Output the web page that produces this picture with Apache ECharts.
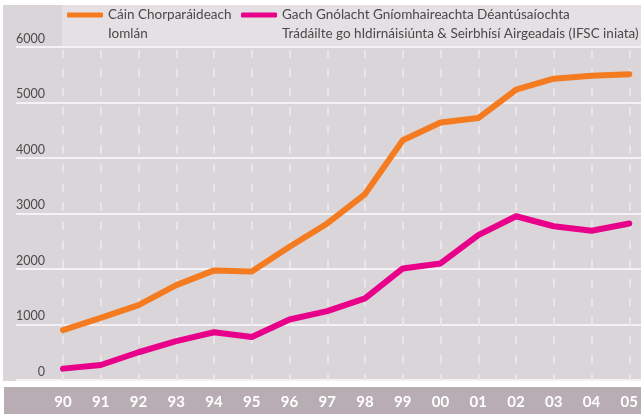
<!DOCTYPE html>
<html>
<head>
<meta charset="UTF-8">
<title>Cáin Chorparáideach</title>
<script src="https://cdn.jsdelivr.net/npm/echarts@6/dist/echarts.min.js"></script>
<style>
  html, body { margin: 0; padding: 0; background: #fff; }
  #main { width: 641px; height: 414px; }
</style>
</head>
<body>
<div id="main"></div>
<script>
// bliainta
var years = ['90', '91', '92', '93', '94', '95', '96', '97', '98', '99', '00', '01', '02', '03', '04', '05'];
// Cáin Chorparáideach Iomlán
var totalTax = [900, 1120, 1350, 1710, 1975, 1955, 2400, 2820, 3350, 4320, 4640, 4720, 5230, 5430, 5480, 5510];
// Gach Gnólacht ... (IFSC iniata)
var mfgIfsc = [205, 270, 500, 700, 860, 775, 1090, 1240, 1470, 2010, 2100, 2610, 2950, 2770, 2690, 2820];
var yTicks = [0, 1000, 2000, 3000, 4000, 5000, 6000];

var name1 = 'Cáin Chorparáideach\nIomlán';
var name2 = 'Gach Gnólacht Gníomhaireachta Déantúsaíochta\nTrádáilte go hIdirnáisiúnta & Seirbhísí Airgeadais (IFSC iniata)';

var font = 'Lato';
var legendText = { fontFamily: font, fontSize: 13.5, color: '#4a4a4a', lineHeight: 19 };

// blank first line so the legend mark sits level with the first text line
function legendFmt(n) { return ' \n' + n; }

var myChart = echarts.init(document.getElementById('main'));

var option = {
    animation: false,
    backgroundColor: '#ffffff',
    graphic: [
        { type: 'rect', z: -10, shape: { x: 3, y: 5, width: 638, height: 376 }, style: { fill: '#dad5d9' } },
        { type: 'rect', z: -9, shape: { x: 62, y: 5, width: 579, height: 41 }, style: { fill: '#e4e0e4' } },
        { type: 'rect', z: -10, shape: { x: 4, y: 387, width: 637, height: 27 }, style: { fill: '#b9adb4' } }
    ],
    legend: [
        {
            data: [name1], left: 67, top: -13.5, padding: 0,
            icon: 'roundRect', itemWidth: 36, itemHeight: 5,
            formatter: legendFmt, textStyle: legendText
        },
        {
            data: [name2], left: 241, top: -13.5, padding: 0,
            icon: 'roundRect', itemWidth: 36, itemHeight: 5,
            formatter: legendFmt, textStyle: legendText
        }
    ],
    grid: [
        { left: 16, right: 0, top: 47, bottom: 34 },
        { left: 63, right: 11, top: 47, bottom: 34 }
    ],
    xAxis: [
        { gridIndex: 0, type: 'value', min: 0, max: 1, show: false },
        {
            gridIndex: 1, type: 'category', data: years, boundaryGap: false,
            axisLine: { show: false }, axisTick: { show: false },
            axisLabel: {
                color: '#ffffff', fontFamily: font, fontWeight: 'bold', fontSize: 15,
                margin: 22, verticalAlign: 'middle'
            },
            splitLine: {
                show: true,
                lineStyle: { color: '#e9e5e8', width: 2, type: [8.3, 10.8], dashOffset: 16.4 }
            }
        }
    ],
    yAxis: [
        {
            gridIndex: 0, type: 'value', min: yTicks[0], max: yTicks[yTicks.length - 1], interval: 1000,
            axisLine: { show: false }, axisTick: { show: false },
            axisLabel: {
                inside: true, align: 'right', margin: 29, verticalAlign: 'bottom',
                padding: [0, 0, 2, 0],
                color: '#4a4a4a', fontFamily: font, fontSize: 12.5,
                formatter: function (v) { return String(v); }
            },
            splitLine: { show: true, lineStyle: { color: '#f4f2f4', width: 2 } }
        },
        { gridIndex: 1, type: 'value', min: 0, max: 6000, show: false }
    ],
    series: [
        {
            name: name1, type: 'line', xAxisIndex: 1, yAxisIndex: 1,
            data: totalTax, symbol: 'none', color: '#f47b20',
            lineStyle: { width: 6, cap: 'round', join: 'round' }
        },
        {
            name: name2, type: 'line', xAxisIndex: 1, yAxisIndex: 1,
            data: mfgIfsc, symbol: 'none', color: '#e8008a',
            lineStyle: { width: 6, cap: 'round', join: 'round' }
        }
    ]
};
myChart.setOption(option);
</script>
</body>
</html>
